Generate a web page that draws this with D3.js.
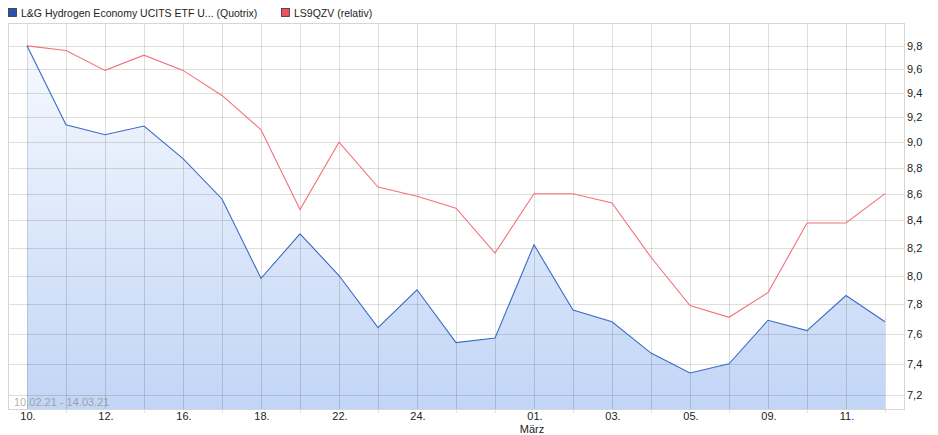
<!DOCTYPE html>
<html>
<head>
<meta charset="utf-8">
<script src="https://cdn.jsdelivr.net/npm/d3@7"></script>
<style>
  html, body { margin: 0; padding: 0; background: #fff; }
  svg { display: block; font-family: "Liberation Sans", Arial, sans-serif; }
</style>
</head>
<body>
<svg id="chart" width="938" height="435"></svg>
<script>
// ---- data ----
const dates = ["10.02","11.02","12.02","15.02","16.02","17.02","18.02","19.02","22.02","23.02","24.02","25.02","26.02",
               "01.03","02.03","03.03","04.03","05.03","08.03","09.03","10.03","11.03","12.03"];
const xTickLabels = ["10.","","12.","","16.","","18.","","22.","","24.","","","01.","","03.","","05.","","09.","","11.",""];
const etfValues = [9.80,9.14,9.06,9.13,8.87,8.56,7.98,8.30,8.00,7.64,7.90,7.54,7.57,8.22,7.76,7.68,7.47,7.34,7.40,7.69,7.62,7.86,7.68];
const relValues = [9.80,9.76,9.59,9.72,9.59,9.38,9.10,8.48,9.00,8.65,8.58,8.49,8.16,8.60,8.60,8.53,8.13,7.79,7.71,7.88,8.38,8.38,8.60];
const yTicks = [7.2,7.4,7.6,7.8,8.0,8.2,8.4,8.6,8.8,9.0,9.2,9.4,9.6,9.8];
const seriesNames = ["L&G Hydrogen Economy UCITS ETF U... (Quotrix)", "LS9QZV (relativ)"];
const periodLabel = "10.02.21 - 14.03.21";

// ---- layout ----
const svg = d3.select("#chart");
const frame = {left: 8, right: 904, top: 23, bottom: 409};

const x = d3.scalePoint().domain(d3.range(dates.length)).range([27, 885]);
const y = d3.scaleLog().domain([7.11, 10.0]).range([frame.bottom, frame.top]);

const defs = svg.append("defs");
const grad = defs.append("linearGradient").attr("id","areaGrad")
  .attr("gradientUnits","userSpaceOnUse").attr("x1",0).attr("y1",frame.top).attr("x2",0).attr("y2",frame.bottom);
grad.append("stop").attr("offset","0%").attr("stop-color","#fafcff");
grad.append("stop").attr("offset","100%").attr("stop-color","#c1d5f6");

// area
const area = d3.area().x((d,i)=>x(i)).y0(frame.bottom).y1(d=>y(d));
svg.append("path").datum(etfValues).attr("d", area).attr("fill","url(#areaGrad)");

// grid
const grid = svg.append("g").attr("shape-rendering","crispEdges");
grid.selectAll("line.h").data(yTicks).join("line")
  .attr("x1", frame.left).attr("x2", frame.right)
  .attr("y1", d=>Math.round(y(d))+0.5).attr("y2", d=>Math.round(y(d))+0.5)
  .attr("stroke","rgba(0,0,0,0.13)");
grid.selectAll("line.v").data(d3.range(dates.length)).join("line")
  .attr("x1", i=>Math.round(x(i))+0.5).attr("x2", i=>Math.round(x(i))+0.5)
  .attr("y1", frame.top).attr("y2", frame.bottom)
  .attr("stroke","rgba(0,0,0,0.13)");
// small ticks below axis at unlabeled positions
grid.selectAll("line.t").data(d3.range(dates.length).filter(i=>!xTickLabels[i])).join("line")
  .attr("x1", i=>Math.round(x(i))+0.5).attr("x2", i=>Math.round(x(i))+0.5)
  .attr("y1", frame.bottom).attr("y2", frame.bottom+4)
  .attr("stroke","#e2e2e2");
// frame
grid.append("rect").attr("x", frame.left+0.5).attr("y", frame.top+0.5)
  .attr("width", frame.right-frame.left).attr("height", frame.bottom-frame.top)
  .attr("fill","none").attr("stroke","#d6d6d6");

// lines
const line = d3.line().x((d,i)=>x(i)).y(d=>y(d));
svg.append("path").datum(relValues).attr("d", line).attr("fill","none")
  .attr("stroke","#f5707a").attr("stroke-width",1.1);
svg.append("path").datum(etfValues).attr("d", line).attr("fill","none")
  .attr("stroke","#3b6bc6").attr("stroke-width",1.1);

// y axis labels (right)
svg.append("g").selectAll("text").data(yTicks).join("text")
  .attr("x", 907).attr("y", d=>y(d)+4)
  .attr("font-size", 11).attr("fill","#222")
  .text(d=>d.toFixed(1).replace(".", ","));

// x axis labels
svg.append("g").selectAll("text").data(d3.range(dates.length).filter(i=>xTickLabels[i])).join("text")
  .attr("x", i=>x(i)+1).attr("y", 420).attr("text-anchor","middle")
  .attr("font-size", 11).attr("fill","#222")
  .text(i=>xTickLabels[i]);
svg.append("text").attr("x", x(13)-2).attr("y", 433).attr("text-anchor","middle")
  .attr("font-size", 11).attr("fill","#222").text("März");

// period label
svg.append("text").attr("x", 14).attr("y", 405.5).attr("font-size", 11)
  .attr("fill","#8a7a60").attr("fill-opacity",0.6).text(periodLabel);

// legend
const legend = svg.append("g");
const legItems = [{name: seriesNames[0], color:"#2a52a8", x: 8}, {name: seriesNames[1], color:"#f0505e", x: 281}];
legItems.forEach(it => {
  legend.append("rect").attr("x", it.x+0.5).attr("y", 8.5).attr("width", 8).attr("height", 8)
    .attr("fill", it.color).attr("stroke","#333").attr("stroke-width",0.8);
  legend.append("text").attr("x", it.x+13).attr("y", 16.5).attr("font-size", 10.5).attr("fill","#222").text(it.name);
});
</script>
</body>
</html>
